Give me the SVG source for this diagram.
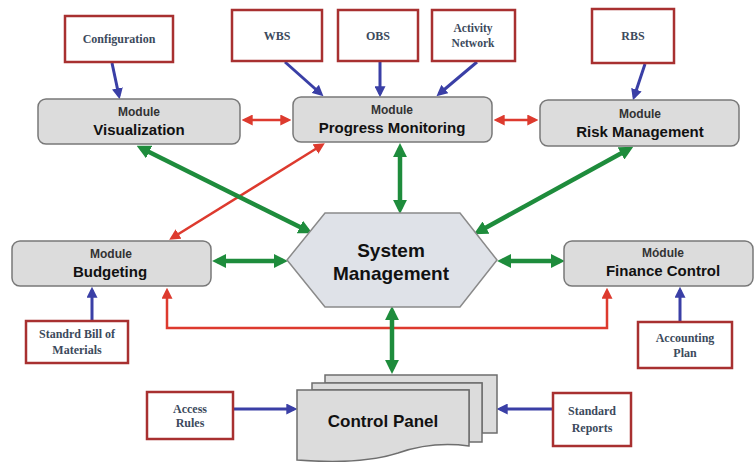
<svg xmlns="http://www.w3.org/2000/svg" width="754" height="462" viewBox="0 0 754 462">
<defs>
<style>
.ibox{fill:#ffffff;stroke:#a83030;stroke-width:2.5}
.itxt{font-family:"Liberation Serif",serif;font-weight:bold;font-size:12px;fill:#3c4a5c;text-anchor:middle}
.mod{fill:#dcdcdc;stroke:#787878;stroke-width:1.5}
.msub{font-family:"Liberation Sans",Arial,sans-serif;font-weight:bold;font-size:12px;fill:#333;text-anchor:middle}
.mtit{font-family:"Liberation Sans",Arial,sans-serif;font-weight:bold;font-size:15px;fill:#111;text-anchor:middle}
.big{font-size:19px}
.cp{font-size:17px}
.sm{font-size:11.5px}
.sheet{fill:#dcdcdc;stroke:#6e6e6e;stroke-width:1.5}
.blue{stroke:#3a3fa6;stroke-width:3;fill:none;marker-end:url(#ab)}
.red{stroke:#dd3a2e;stroke-width:2.5;fill:none;marker-end:url(#ar);marker-start:url(#ar)}
.green{stroke:#1e8c3c;stroke-width:4.5;fill:none;marker-end:url(#ag);marker-start:url(#ag)}
</style>
<marker id="ab" markerUnits="userSpaceOnUse" viewBox="0 0 10 10" refX="7" refY="5" markerWidth="11" markerHeight="11" orient="auto-start-reverse"><path d="M0,0 L10,5 L0,10 z" fill="#3a3fa6"/></marker>
<marker id="ar" markerUnits="userSpaceOnUse" viewBox="0 0 10 10" refX="7" refY="5" markerWidth="11" markerHeight="11" orient="auto-start-reverse"><path d="M0,0 L10,5 L0,10 z" fill="#dd3a2e"/></marker>
<marker id="ag" markerUnits="userSpaceOnUse" viewBox="0 0 10 10" refX="6.5" refY="5" markerWidth="14" markerHeight="14" orient="auto-start-reverse"><path d="M0,0 L10,5 L0,10 z" fill="#1e8c3c"/></marker>
</defs>
<rect width="754" height="462" fill="#ffffff"/>

<g id="connectors">
<line class="blue" x1="112" y1="63" x2="119" y2="96"/>
<line class="blue" x1="285" y1="62" x2="321" y2="94"/>
<line class="blue" x1="380" y1="62" x2="380" y2="94"/>
<line class="blue" x1="477" y1="62" x2="439" y2="94"/>
<line class="blue" x1="645" y1="64" x2="634" y2="97"/>
<line class="blue" x1="92" y1="320" x2="92" y2="290"/>
<line class="blue" x1="680" y1="321" x2="680" y2="290"/>
<line class="blue" x1="234" y1="409" x2="294" y2="409"/>
<line class="blue" x1="552" y1="409" x2="500" y2="409"/>

<line class="red" x1="245" y1="120" x2="288" y2="120"/>
<line class="red" x1="497" y1="120" x2="535" y2="120"/>
<line class="red" x1="322" y1="145" x2="172" y2="238"/>
<path class="red" d="M167,291 L167,328 L607,328 L607,291"/>

<line class="green" x1="141" y1="148" x2="308" y2="231"/>
<line class="green" x1="400" y1="148" x2="400" y2="209"/>
<line class="green" x1="629" y1="149" x2="478" y2="232"/>
<line class="green" x1="217" y1="261" x2="283" y2="261"/>
<line class="green" x1="502" y1="261" x2="560" y2="261"/>
<line class="green" x1="392" y1="311" x2="392" y2="369"/>
</g>

<g id="configuration"><rect class="ibox" x="65" y="16" width="108" height="46"/><text class="itxt" x="119" y="43">Configuration</text></g>
<g id="wbs"><rect class="ibox" x="232" y="10" width="90" height="51"/><text class="itxt" x="277" y="40">WBS</text></g>
<g id="obs"><rect class="ibox" x="338" y="10" width="80" height="51"/><text class="itxt" x="378" y="40">OBS</text></g>
<g id="activity-network"><rect class="ibox" x="432" y="10" width="83" height="51"/><text class="itxt sm" x="473" y="32">Activity</text><text class="itxt sm" x="473" y="47">Network</text></g>
<g id="rbs"><rect class="ibox" x="592" y="9" width="82" height="54"/><text class="itxt" x="633" y="40">RBS</text></g>

<g id="module-visualization"><rect class="mod" x="38" y="99" width="202" height="45" rx="8"/><text class="msub" x="139" y="116">Module</text><text class="mtit" x="139" y="135">Visualization</text></g>
<g id="module-progress-monitoring"><rect class="mod" x="293" y="97" width="199" height="45" rx="8"/><text class="msub" x="392" y="114">Module</text><text class="mtit" x="392" y="133">Progress Monitoring</text></g>
<g id="module-risk-management"><rect class="mod" x="540" y="100" width="199" height="46" rx="8"/><text class="msub" x="640" y="118">Module</text><text class="mtit" x="640" y="137">Risk Management</text></g>
<g id="module-budgeting"><rect class="mod" x="12" y="241" width="199" height="45" rx="8"/><text class="msub" x="111" y="258">Module</text><text class="mtit" x="110" y="277">Budgeting</text></g>
<g id="module-finance-control"><rect class="mod" x="564" y="241" width="189" height="45" rx="8"/><text class="msub" x="663" y="257">Módule</text><text class="mtit" x="663" y="276">Finance Control</text></g>

<g id="system-management"><polygon points="287,260 325,213 460,213 497,260 460,307 325,307" fill="#dfe2e8" stroke="#8a8a8a" stroke-width="1.5"/><text class="mtit big" x="391" y="257">System</text><text class="mtit big" x="391" y="280">Management</text></g>

<g id="standard-bill-of-materials"><rect class="ibox" x="26" y="321" width="102" height="42"/><text class="itxt" x="77" y="338">Standrd Bill of</text><text class="itxt" x="77" y="354">Materials</text></g>
<g id="accounting-plan"><rect class="ibox" x="638" y="322" width="94" height="46"/><text class="itxt" x="685" y="342">Accounting</text><text class="itxt" x="685" y="357">Plan</text></g>

<g id="control-panel">
<path class="sheet" d="M325,375 L497,375 L497,433 L482,433 L482,383 L325,383 Z"/>
<path class="sheet" d="M312,383 L482,383 L482,442 L469,442 L469,390 L312,390 Z"/>
<path class="sheet" d="M297,390 L469,390 L469,446 C440,442 418,446 398,453 C370,462 335,463 297,460 Z"/>
<text class="mtit cp" x="383" y="427">Control Panel</text>
</g>
<g id="access-rules"><rect class="ibox" x="147" y="392" width="86" height="47"/><text class="itxt" x="190" y="413">Access</text><text class="itxt" x="190" y="427">Rules</text></g>
<g id="standard-reports"><rect class="ibox" x="553" y="393" width="78" height="53"/><text class="itxt" x="592" y="415">Standard</text><text class="itxt" x="592" y="432">Reports</text></g>
</svg>
